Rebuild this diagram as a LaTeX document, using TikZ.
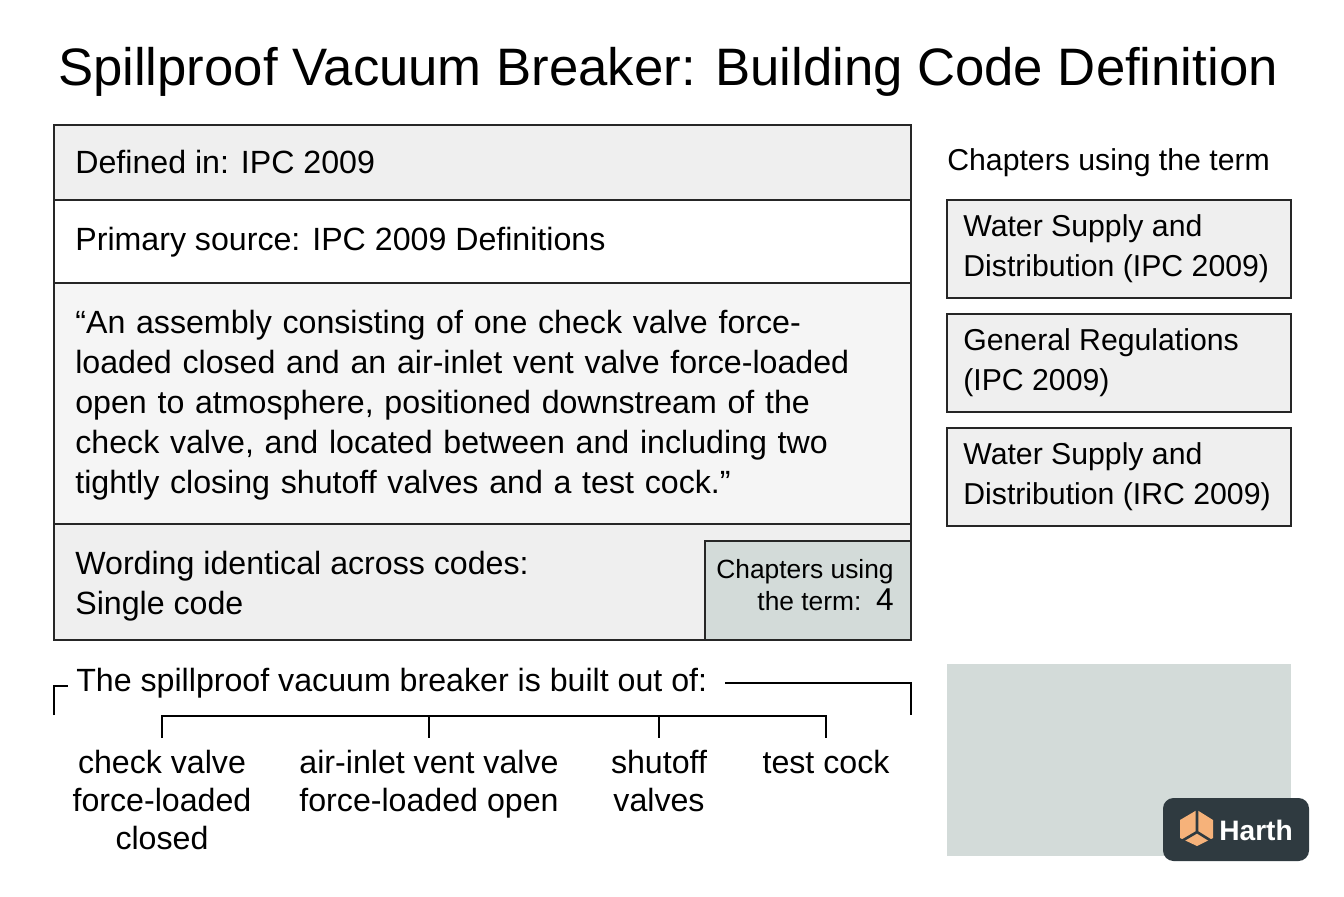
\documentclass[tikz,border=0pt]{standalone}
\usepackage{fontspec}
\setmainfont{Liberation Sans}
\usetikzlibrary{positioning}
\definecolor{rowgray}{HTML}{EFEFEF}
\definecolor{cellgray}{HTML}{D3DBD9}
\definecolor{logobg}{HTML}{2F3A40}
\definecolor{logoorange}{HTML}{F6B27A}
\begin{document}
\begin{tikzpicture}[x=0.02cm,y=-0.02cm,
  txt/.style={font=\fontsize{18.3}{22.8}\selectfont,anchor=west,align=left,inner sep=0pt},
  sidetxt/.style={txt,font=\fontsize{17.2}{22.8}\selectfont},
  row/.style={draw=black!85,line width=1.2pt},
  side/.style={draw=black!85,line width=1.2pt,fill=rowgray},
  part/.style={font=\fontsize{18.3}{21.5}\selectfont,align=center,anchor=north,inner sep=0pt}]
\useasboundingbox[fill=white] (0,0) rectangle (1344,896);
% title
\node[font=\fontsize{30}{36}\selectfont] (title) at (668,72) {Spillproof Vacuum Breaker: Building Code Definition};
% main table
\draw[row,fill=rowgray] (54,125) rectangle (911,200);
\draw[row,fill=white] (54,200) rectangle (911,283);
\draw[row,fill=rowgray!60] (54,283) rectangle (911,524);
\draw[row,fill=rowgray] (54,524) rectangle (911,640);
\draw[row,fill=cellgray] (705,541) rectangle (911,640);
\node[txt] (defined) at (75,162) {Defined in: IPC 2009};
\node[txt] (source) at (75,242) {Primary source: IPC 2009 Definitions};
\node[txt,text width=16.5cm] (quote) at (75,405) {“An assembly consisting of one check valve force-\\loaded closed and an air-inlet vent valve force-loaded\\open to atmosphere, positioned downstream of the\\check valve, and located between and including two\\tightly closing shutoff valves and a test cock.”};
\node[txt] (wording) at (75,586) {Wording identical across codes:\\Single code};
\node[txt,anchor=north east,align=right,font=\fontsize{15}{18.5}\selectfont] (count) at (894,559) {Chapters using\\the term:\ \ \fontsize{18}{18.5}\selectfont 4};
% chapters column
\node[sidetxt] (chaphead) at (947,163) {Chapters using the term};
\foreach \y/\t [count=\i] in {200/{Water Supply and\\Distribution (IPC 2009)},
                              314/{General Regulations\\(IPC 2009)},
                              428/{Water Supply and\\Distribution (IRC 2009)}}{
  \draw[side] (947,\y) rectangle (1291,\y+98);
  \node[sidetxt] (chap\i) at (963,\y+49) {\t};
}
% placeholder and logo
\fill[cellgray] (947,664) rectangle (1291,856);
\fill[logobg,rounded corners=6pt] (1163,798) rectangle (1309,861);
\fill[logoorange] (1197,810) -- (1213,820) -- (1213,838) -- (1197,846) -- (1180,838) -- (1180,820) -- cycle;
\draw[logobg,line width=1.5pt] (1197,810) -- (1197,832) -- (1180,842) (1197,832) -- (1213,842);
\node[font=\bfseries\fontsize{16}{18}\selectfont,text=white,anchor=west,inner sep=0pt] (logo) at (1219,830) {Harth};
% composition bracket
\node[txt] (built) at (76,683) {The spillproof vacuum breaker is built out of:};
\coordinate (bl) at (54,715);
\coordinate (br) at (911,715);
\draw[line width=1.2pt] (bl) -- (54,686) -- (68,686);
\draw[line width=1.2pt] (built.east) ++(10pt,0) -- (911,683) -- (br);
\draw[line width=1.2pt] (162,738) -- (162,716) -- (826,716) -- (826,738);
\foreach \x in {429,659}{ \draw[line width=1.2pt] (\x,716) -- (\x,738); }
\node[part] (p1) at (162,750) {check valve\\force-loaded\\closed};
\node[part] (p2) at (429,750) {air-inlet vent valve\\force-loaded open};
\node[part] (p3) at (659,750) {shutoff\\valves};
\node[part] (p4) at (826,750) {test cock};
\end{tikzpicture}
\end{document}
